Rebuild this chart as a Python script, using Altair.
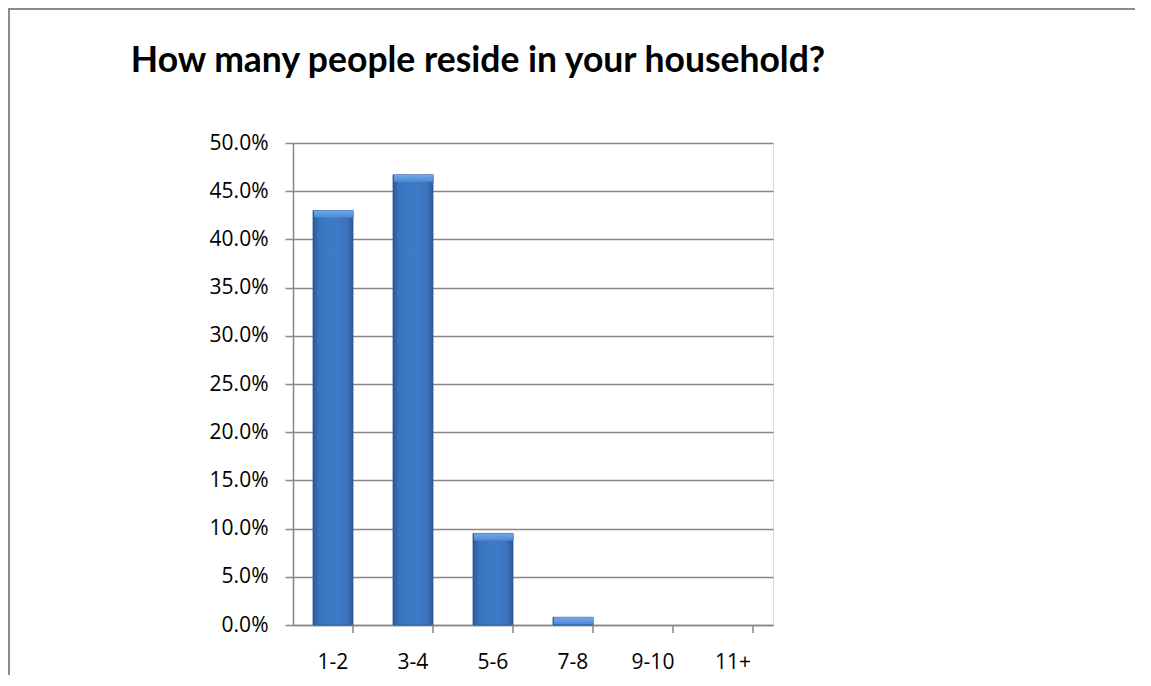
import altair as alt
import pandas as pd

categories = ["1-2", "3-4", "5-6", "7-8", "9-10", "11+"]
values = [43.0, 46.7, 9.5, 0.8, 0.0, 0.0]
title_text = "How many people reside in your household?"

df = pd.DataFrame({"cat": categories, "val": [v / 100 for v in values]})
one = pd.DataFrame({"t": [title_text]})

grad = alt.Gradient(
    gradient="linear",
    stops=[
        alt.GradientStop(color="#2B5A95", offset=0),
        alt.GradientStop(color="#3A74BD", offset=0.15),
        alt.GradientStop(color="#3E7BC8", offset=0.5),
        alt.GradientStop(color="#3A74BD", offset=0.85),
        alt.GradientStop(color="#2B5A95", offset=1),
    ],
    x1=0, x2=1, y1=0, y2=0,
)

bevel = alt.Gradient(
    gradient="linear",
    stops=[
        alt.GradientStop(color="#6FA8EA", offset=0),
        alt.GradientStop(color="#4F8AD3", offset=1),
    ],
    x1=0, x2=0, y1=0, y2=1,
)

xenc = alt.X(
    "cat:N",
    sort=categories,
    scale=alt.Scale(domain=categories, paddingInner=0.5, paddingOuter=0.25),
    axis=alt.Axis(
        title=None, labelAngle=0, ticks=False, labelFont="Open Sans",
        labelFontSize=21, labelColor="#000000", labelPadding=26,
        domainColor="#868686", domainWidth=1.5, grid=False,
    ),
)

yenc = alt.Y(
    "val:Q",
    scale=alt.Scale(domain=[0, 0.5], nice=False),
    axis=alt.Axis(
        title=None, format=".1%", values=[i * 0.05 for i in range(11)],
        labelFont="Open Sans", labelFontSize=21, labelColor="#000000",
        labelPadding=17, tickSize=8, tickColor="#868686", tickWidth=1.5,
        domainColor="#868686", domainWidth=1.5,
        gridColor="#868686", gridWidth=1.3,
    ),
)

base = alt.Chart(df).transform_filter("datum.val > 0")

bars = base.mark_bar(fill=grad, stroke="#2A5894", strokeWidth=0.8).encode(x=xenc, y=yenc)

tops = base.mark_bar(fill=bevel, y2Offset=7, xOffset=1, x2Offset=-1).encode(
    x=alt.X("cat:N", sort=categories),
    y="val:Q",
    y2="val:Q",
)

ticks = alt.Chart(df).mark_rule(color="#868686", strokeWidth=1.5).encode(
    x=alt.X("cat:N", sort=categories, bandPosition=1),
    y=alt.value(482),
    y2=alt.value(490),
)

# outer chart frame (top and left edges visible in the reference)
frame_top = alt.Chart(one).mark_rule(color="#8C8C8C", strokeWidth=2, clip=False).encode(
    x=alt.value(-285), x2=alt.value(842), y=alt.value(-134)
)
frame_left = alt.Chart(one).mark_rule(color="#8C8C8C", strokeWidth=2, clip=False).encode(
    x=alt.value(-284), y=alt.value(-135), y2=alt.value(540)
)

title = alt.Chart(one).mark_text(
    font="Lato", fontSize=35.5, fontWeight="bold", color="#000000",
    align="center", baseline="alphabetic", clip=False,
).encode(text="t:N", x=alt.value(185), y=alt.value(-71))

chart = (
    alt.layer(bars, tops, ticks, frame_top, frame_left, title)
    .properties(
        width=480,
        height=482,
        autosize=alt.AutoSizeParams(type="none"),
        padding={"left": 285, "top": 135, "right": 362, "bottom": 50},
    )
    .configure_view(stroke=None)
    .configure(background="white")
)

chart.save("out.html", embed_options={"renderer": "svg", "actions": False})
